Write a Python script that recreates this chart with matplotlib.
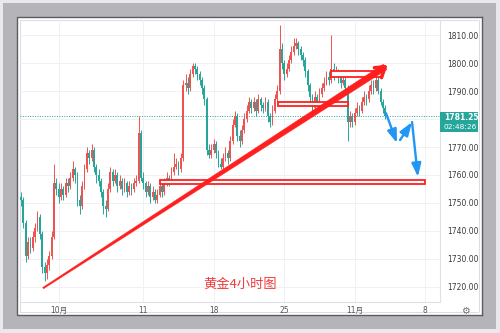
import numpy as np
import matplotlib
matplotlib.use('Agg')
import matplotlib.pyplot as plt
from matplotlib.patches import Rectangle, Polygon
from matplotlib.transforms import blended_transform_factory

plt.rcParams['font.family'] = ['DejaVu Sans', 'Noto Sans CJK SC']

# ---------------- data (4h gold candles) ----------------
first_open = 1752
close = [1751, 1743, 1731, 1736, 1734, 1738, 1741, 1745, 1739, 1727,
         1725, 1728, 1731, 1738, 1757, 1755, 1752, 1755, 1753, 1757,
         1756, 1759, 1762, 1760, 1751, 1749, 1756, 1762, 1768, 1766,
         1769, 1763, 1760, 1758, 1754, 1749, 1748, 1755, 1761, 1758,
         1760, 1756, 1758, 1755, 1757, 1754, 1756, 1755, 1757, 1758,
         1775, 1759, 1757, 1754, 1756, 1752, 1754, 1751, 1753, 1756,
         1754, 1757, 1759, 1758, 1761, 1763, 1764, 1762, 1766, 1792,
         1793, 1791, 1796, 1799, 1798, 1796, 1794, 1791, 1787, 1769,
         1767, 1769, 1771, 1768, 1764, 1763, 1766, 1768, 1766, 1772,
         1778, 1781, 1774, 1772, 1776, 1780, 1783, 1786, 1784, 1786,
         1783, 1787, 1785, 1784, 1786, 1781, 1779, 1783, 1787, 1790,
         1805, 1800, 1796, 1798, 1801, 1804, 1806, 1807, 1805, 1803,
         1801, 1797, 1792, 1788, 1784, 1788, 1786, 1789, 1791, 1793,
         1795, 1794, 1798, 1796, 1797, 1795, 1793, 1794, 1791, 1779,
         1781, 1779, 1782, 1784, 1783, 1786, 1788, 1787, 1790, 1792,
         1791, 1794, 1790, 1786, 1784, 1781.25]
high = [1754, 1752, 1744, 1738, 1738, 1740, 1743, 1747, 1746, 1740,
        1729, 1730, 1733, 1740, 1764, 1759, 1757, 1757, 1756, 1759,
        1759, 1761, 1765, 1763, 1761, 1753, 1758, 1764, 1770, 1769,
        1771, 1770, 1764, 1762, 1759, 1755, 1751, 1757, 1763, 1762,
        1762, 1761, 1760, 1759, 1759, 1758, 1758, 1757, 1759, 1760,
        1781, 1776, 1761, 1758, 1758, 1757, 1756, 1755, 1755, 1758,
        1757, 1759, 1761, 1760, 1763, 1768, 1766, 1765, 1768, 1794,
        1796, 1795, 1798, 1800, 1800, 1799, 1797, 1795, 1792, 1788,
        1771, 1771, 1773, 1772, 1769, 1766, 1768, 1770, 1769, 1774,
        1780, 1783, 1782, 1776, 1778, 1782, 1785, 1788, 1787, 1788,
        1787, 1789, 1788, 1786, 1788, 1787, 1782, 1785, 1789, 1792,
        1813.5, 1807, 1801, 1800, 1803, 1806, 1809, 1809, 1808, 1806,
        1804, 1802, 1798, 1793, 1789, 1790, 1789, 1791, 1793, 1795,
        1797, 1797, 1810, 1800, 1799, 1798, 1796, 1796, 1795, 1792,
        1783, 1782, 1784, 1786, 1785, 1788, 1790, 1789, 1792, 1794,
        1794, 1796, 1795, 1791, 1787, 1785]
low = [1749, 1741, 1729, 1730, 1732, 1733, 1736, 1740, 1737, 1725,
       1722, 1723, 1726, 1730, 1737, 1753, 1750, 1751, 1751, 1752,
       1754, 1755, 1758, 1757, 1749, 1746, 1748, 1755, 1761, 1764,
       1765, 1761, 1757, 1756, 1752, 1746, 1745, 1747, 1754, 1756,
       1757, 1754, 1755, 1753, 1754, 1752, 1753, 1753, 1754, 1756,
       1757, 1758, 1755, 1752, 1753, 1750, 1751, 1750, 1750, 1752,
       1752, 1753, 1756, 1756, 1757, 1760, 1762, 1760, 1761, 1765,
       1790, 1789, 1790, 1795, 1796, 1794, 1792, 1789, 1785, 1767,
       1766, 1766, 1768, 1766, 1763, 1762, 1762, 1765, 1764, 1765,
       1771, 1777, 1772, 1770, 1771, 1775, 1779, 1782, 1782, 1783,
       1781, 1782, 1783, 1782, 1783, 1779, 1777, 1778, 1782, 1786,
       1789, 1798, 1794, 1795, 1797, 1800, 1803, 1805, 1803, 1801,
       1799, 1795, 1790, 1786, 1782.5, 1783, 1785, 1785, 1788, 1790,
       1792, 1792, 1793, 1794, 1795, 1793, 1791, 1792, 1789, 1772,
       1777, 1777, 1778, 1781, 1781, 1782, 1785, 1785, 1786, 1789,
       1789, 1790, 1789, 1785, 1782, 1780]
open_ = [first_open] + close[:-1]

price_ticks = [1720, 1730, 1740, 1750, 1760, 1770, 1780, 1790, 1800, 1810]
# the 1780 label is hidden behind the last-price tag in the reference
price_labels = [f"{p:.3f}" if p != 1780 else "" for p in price_ticks]
time_tick_pos = [16, 52, 82, 112, 142, 172]
time_tick_labels = ["10月", "11", "18", "25", "11月", "8"]
last_price = 1781.25
last_price_label = "1781.255"
countdown_label = "02:48:26"
title_text = "黄金4小时图"

# annotation geometry (candle index, price)
trend_start = (9.4, 1719.6)
trend_end = (154.9, 1798.6)
head_arms = [(150.4, 1798.3), (153.4, 1794.8)]
boxes = [(59.1, 171.9, 1756.8, 1758.2),
         (109.4, 139.1, 1784.6, 1786.1),
         (131.9, 153.6, 1795.0, 1797.1)]
blue_paths = [((155.3, 1782.1), (160.0, 1771.4)),
              ((161.3, 1772.5), (166.4, 1778.9)),
              ((166.4, 1778.9), (168.9, 1759.3))]

UP, DOWN = '#ef5350', '#26a69a'
RED = '#ff1f1f'
BLUE = '#2196f3'

W, H = 500, 333
fig = plt.figure(figsize=(W / 100, H / 100), dpi=100)
fig.patch.set_facecolor('#e8e8ed')

# ---- background frame (pixel coords) ----
bg = fig.add_axes([0, 0, 1, 1])
bg.set_xlim(0, W); bg.set_ylim(H, 0); bg.axis('off')
bg.add_patch(Rectangle((3, 3), 493, 326, fc='#b4b4b9', ec='none'))
bg.add_patch(Rectangle((16.5, 16.5), 465.5, 298.5, fc='white', ec='#5c5c62', lw=1))
bg.plot([19.5, 19.5], [19.5, 312], color='#dcdde4', lw=0.8)
bg.plot([19.5, 478.5], [19.5, 19.5], color='#dcdde4', lw=0.8)
bg.plot([19.5, 478.5], [312, 312], color='#dcdde4', lw=0.8)
bg.text(465, 310.5, '⚙', fontsize=7, color='#707070', ha='center', va='center',
        family='DejaVu Sans')

# ---- main chart axes ----
x0, x1, y0, y1 = 20, 440, 20, 302
ax = fig.add_axes([x0 / W, (H - y1) / H, (x1 - x0) / W, (y1 - y0) / H])
ax.set_facecolor('none')
ax.set_xlim(-0.43, 178.3)
ax.set_ylim(1714.64, 1815.36)

for s in ['left', 'top']:
    ax.spines[s].set_visible(False)
ax.spines['right'].set_color('#dfe1e8'); ax.spines['right'].set_linewidth(0.8)
ax.spines['bottom'].set_color('#dfe1e8'); ax.spines['bottom'].set_linewidth(0.8)

ax.yaxis.tick_right()
ax.set_yticks(price_ticks, price_labels)
ax.set_xticks(time_tick_pos, time_tick_labels)
ax.tick_params(axis='y', length=0, pad=5, labelsize=5.5, labelcolor='#3a3a3a')
ax.tick_params(axis='x', length=0, pad=3, labelsize=5.5, labelcolor='#555555')
ax.grid(True, color='#f0f1f5', lw=0.7)
ax.set_axisbelow(True)

# candles
idx = np.arange(len(close))
o = np.array(open_, float); c = np.array(close, float)
hi = np.array(high, float); lo = np.array(low, float)
cols = np.where(c >= o, UP, DOWN)
ax.vlines(idx, lo, hi, colors=cols, lw=0.7, zorder=2)
body_b = np.minimum(o, c)
body_h = np.maximum(np.abs(c - o), 0.35)
ax.bar(idx, body_h, bottom=body_b, width=0.75, color=cols, lw=0, zorder=3)

# last price dotted line
ax.axhline(last_price, color=DOWN, lw=0.7, ls=(0, (1, 1.5)), zorder=1)

# red hollow boxes
for bx0, bx1, bp0, bp1 in boxes:
    ax.add_patch(Rectangle((bx0, bp0), bx1 - bx0, bp1 - bp0, fc='white',
                           ec=RED, lw=1.3, zorder=5))

# tapered trend arrow
def tapered(p0, p1, w0, w1):
    d0 = ax.transData.transform(p0)
    d1 = ax.transData.transform(p1)
    v = d1 - d0
    n = np.array([-v[1], v[0]]) / np.hypot(*v)
    pts = np.array([d0 + n * w0 / 2, d1 + n * w1 / 2, d1 - n * w1 / 2, d0 - n * w0 / 2])
    dp = ax.transData.inverted().transform(pts)
    ax.add_patch(Polygon(dp, closed=True, fc=RED, ec=RED, lw=0.3, zorder=6))

tapered(trend_start, trend_end, 1.5, 6.5)
for arm in head_arms:
    ax.plot([trend_end[0], arm[0]], [trend_end[1], arm[1]], color=RED, lw=2.6,
            solid_capstyle='round', zorder=6)

# blue forecast arrows
for (sx, sy), (ex, ey) in blue_paths:
    ax.annotate('', xy=(ex, ey), xytext=(sx, sy),
                arrowprops=dict(arrowstyle='-|>,head_length=0.8,head_width=0.28',
                                color=BLUE, lw=1.7, mutation_scale=10,
                                shrinkA=0, shrinkB=0), zorder=7)

# title text
ax.text(93.2, 1721.1, title_text, color='#ef3b3b', fontsize=9.5, ha='center',
        va='center', family=['Noto Sans CJK SC', 'DejaVu Sans'], zorder=8)

# last price tag
bt = blended_transform_factory(ax.transAxes, ax.transData)
ax.add_patch(Rectangle((1.0, 1775.5), 42 / 420, 7.1, transform=bt, fc=DOWN,
                       ec='none', clip_on=False, zorder=8))
ax.text(1.0 + 4 / 420, 1780.7, last_price_label, transform=bt, color='white',
        fontsize=5.5, fontweight='bold', va='center', ha='left', clip_on=False, zorder=9)
ax.text(1.0 + 4 / 420, 1777.3, countdown_label, transform=bt, color='white',
        fontsize=5.3, va='center', ha='left', clip_on=False, zorder=9)

# ---- right border overlay (clips price labels) ----
ov = fig.add_axes([478 / W, 0, 22 / W, 1])
ov.set_zorder(20)
ov.set_xlim(478, 500); ov.set_ylim(H, 0); ov.axis('off')
ov.add_patch(Rectangle((478, 0), 22, H, fc='#e8e8ed', ec='none'))
ov.add_patch(Rectangle((478, 3), 18, 326, fc='#b4b4b9', ec='none'))
ov.add_patch(Rectangle((478, 16.5), 4, 298.5, fc='white', ec='none'))
ov.plot([482, 482], [16.5, 315], color='#5c5c62', lw=1)
ov.plot([478, 482], [16.5, 16.5], color='#5c5c62', lw=1)
ov.plot([478, 482], [315, 315], color='#5c5c62', lw=1)
ov.plot([478.8, 478.8], [19.5, 312], color='#dcdde4', lw=0.8)

fig.savefig('out.png', dpi=100, facecolor=fig.get_facecolor())
